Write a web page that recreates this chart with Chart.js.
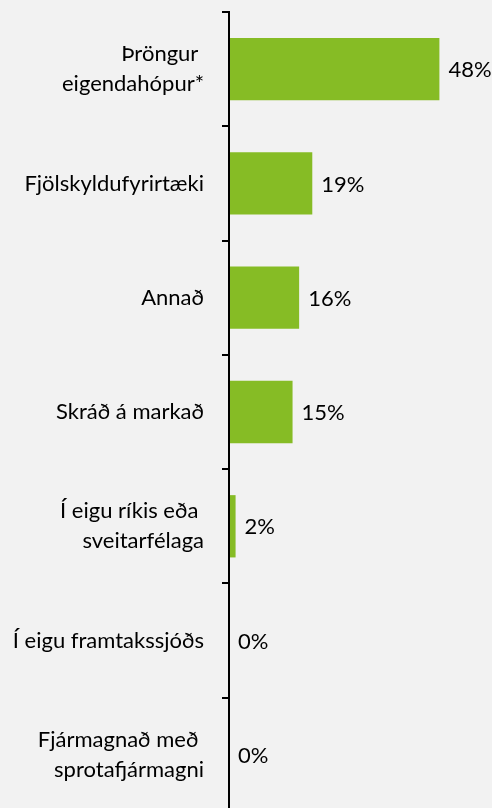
<!DOCTYPE html>
<html>
<head>
<meta charset="utf-8">
<script src="https://cdn.jsdelivr.net/npm/chart.js@4"></script>
<style>
  html, body { margin: 0; padding: 0; background: #F2F2F2; overflow: hidden; }
  #wrap { width: 492px; height: 812px; position: relative; }
</style>
</head>
<body>
<div id="wrap"><canvas id="myChart"></canvas></div>
<script>
// categories (trailing spaces kept as in the original labels)
const categories = [
  ['Þröngur ', 'eigendahópur*'],
  'Fjölskyldufyrirtæki',
  'Annað',
  'Skráð á markað',
  ['Í eigu ríkis eða ', 'sveitarfélaga'],
  'Í eigu framtakssjóðs',
  ['Fjármagnað með ', 'sprotafjármagni']
];
// share of companies, %
const shares = [48, 19, 16, 14.5, 1.5, 0, 0];

const FONT = { family: 'Lato', size: 22, lineHeight: 1.36 };

const valueLabels = {
  id: 'valueLabels',
  afterDatasetsDraw(chart) {
    const c = chart.ctx;
    const meta = chart.getDatasetMeta(0);
    c.save();
    c.font = FONT.size + 'px ' + FONT.family;
    c.fillStyle = '#000';
    c.textAlign = 'left';
    c.textBaseline = 'middle';
    meta.data.forEach(function (bar, i) {
      c.fillText(Math.round(shares[i]) + '%', bar.x + 9, bar.y + 1);
    });
    c.restore();
  }
};

const ctx = document.getElementById('myChart');
const myChart = new Chart(ctx, {
  type: 'bar',
  data: {
    labels: categories,
    datasets: [{
      data: shares,
      backgroundColor: '#86BC25',
      borderWidth: 0,
      barPercentage: 0.545,
      categoryPercentage: 1
    }]
  },
  options: {
    indexAxis: 'y',
    responsive: true,
    maintainAspectRatio: false,
    animation: false,
    layout: { padding: { top: 12, right: 0, bottom: 0, left: 0 } },
    plugins: { legend: { display: false }, tooltip: { enabled: false } },
    scales: {
      x: { display: false, min: 0, max: 60 },
      y: {
        afterFit(scale) {
          scale.width = 229;
          scale.paddingTop = 0;
          scale.paddingBottom = 0;
        },
        border: { display: true, color: '#000', width: 2, z: 1 },
        grid: { drawOnChartArea: false, drawTicks: true, tickLength: 7, color: '#000', lineWidth: 2 },
        ticks: { color: '#000', font: FONT, padding: 18, autoSkip: false }
      }
    }
  },
  plugins: [valueLabels]
});
</script>
</body>
</html>
